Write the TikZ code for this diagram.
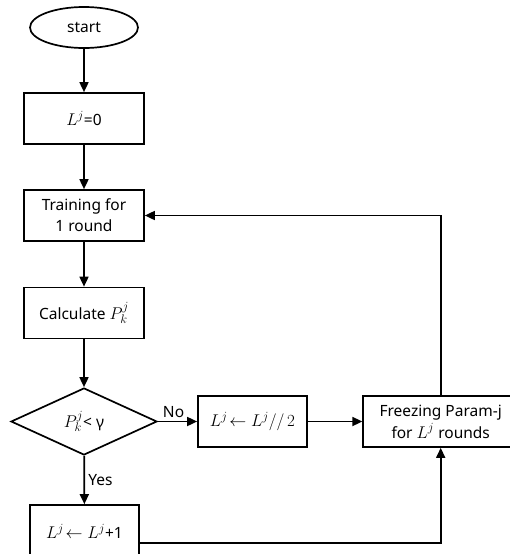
\documentclass[tikz,border=0pt]{standalone}
\usepackage{fix-cm}
\usepackage{fontspec}
\setmainfont{Noto Sans}
\DeclareMathSizes{15.5}{17}{12.5}{9}
\usetikzlibrary{shapes.geometric,arrows.meta}

\begin{document}
\begin{tikzpicture}[x=1pt,y=-1pt,line width=1.7pt,
    font=\fontsize{15.5}{21}\selectfont,
    box/.style={draw,rectangle,minimum height=51pt,align=center,inner sep=2pt},
    flow/.style={-{Triangle[length=10pt,width=9pt]}}]
    \useasboundingbox (0,0) rectangle (510,554);
    \clip (0,0) rectangle (510,554);

    \node[draw,ellipse,minimum width=108pt,minimum height=41pt] (start) at (84,27.5) {start};
    \node[box,minimum width=120pt] (init) at (84,118.5) {$L^j$=0};
    \node[box,minimum width=120pt] (train) at (84,215.5) {Training for\\1 round};
    \node[box,minimum width=120pt] (calc) at (84,313) {Calculate $P_k^j$};
    \node[draw,diamond,inner sep=0pt,minimum width=146pt,minimum height=67pt] (cond) at (84,421.5) {$P_k^j$< γ};
    \node[box,minimum width=109pt] (half) at (252.5,421.5) {$L^j\!\leftarrow L^j//\,2$};
    \node[box,minimum width=155pt] (frz) at (440.7,421.5) {Freezing Param-j\\[1pt]for $L^j$ rounds};
    \node[box,minimum width=109pt,minimum height=52pt] (inc) at (84.5,531) {$L^j\!\leftarrow L^j$+1};

    \draw[flow] (start) -- (init);
    \draw[flow] (init) -- (train);
    \draw[flow] (train) -- (calc);
    \draw[flow] (calc) -- (cond);
    \draw[flow] (cond) -- node[above,pos=0.4] {No} (half);
    \draw[flow] (half) -- (frz);
    \draw[flow] (cond) -- node[right,pos=0.5] {Yes} (inc);
    \draw[flow] ([yshift=-12pt]inc.east) -| (frz.south);
    \draw[flow] (frz.north) |- (train.east);
\end{tikzpicture}
\end{document}
